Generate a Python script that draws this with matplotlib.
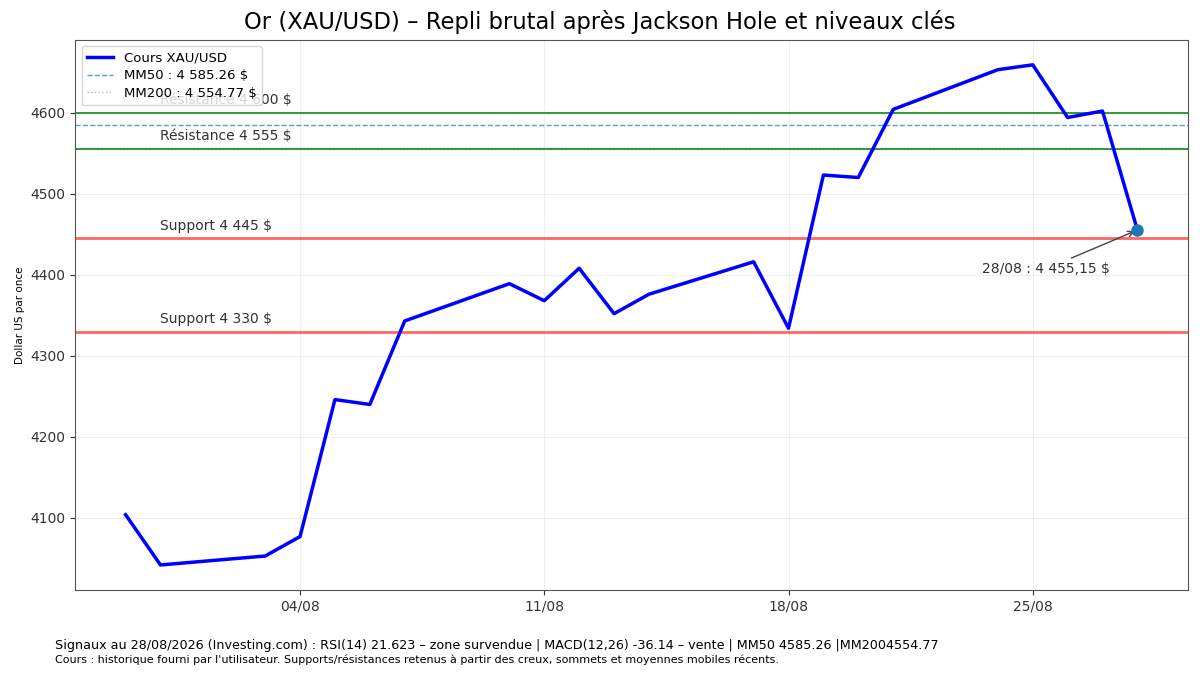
import matplotlib
matplotlib.use("Agg")
import matplotlib.pyplot as plt
import matplotlib.dates as mdates
import pandas as pd

dates = ["2026-07-30", "2026-07-31", "2026-08-03", "2026-08-04", "2026-08-05",
         "2026-08-06", "2026-08-07", "2026-08-10", "2026-08-11", "2026-08-12",
         "2026-08-13", "2026-08-14", "2026-08-17", "2026-08-18", "2026-08-19",
         "2026-08-20", "2026-08-21", "2026-08-24", "2026-08-25", "2026-08-26",
         "2026-08-27", "2026-08-28"]
prices = [4104, 4042, 4053, 4077, 4246, 4240, 4343, 4389, 4368, 4408, 4352,
          4376, 4416, 4334, 4523, 4520, 4604, 4653, 4659, 4594, 4602, 4455.15]

mm50 = 4585.26
mm200 = 4554.77
resistances = [4600, 4555]
resistance_labels = ["Résistance 4 600 $", "Résistance 4 555 $"]
supports = [4445, 4330]
support_labels = ["Support 4 445 $", "Support 4 330 $"]

title = "Or (XAU/USD) – Repli brutal après Jackson Hole et niveaux clés"
ylabel = "Dollar US par once"
last_label = "28/08 : 4 455,15 $"
footer1 = ("Signaux au 28/08/2026 (Investing.com) : RSI(14) 21.623 – zone survendue | "
           "MACD(12,26) -36.14 – vente | MM50 4585.26 |MM2004554.77")
footer2 = ("Cours : historique fourni par l'utilisateur. Supports/résistances retenus "
           "à partir des creux, sommets et moyennes mobiles récents.")

x = pd.to_datetime(dates)

fig = plt.figure(figsize=(12, 6.75), dpi=100)
ax = fig.add_axes([0.0625, 0.126, 0.9275, 0.815])

ax.plot(x, prices, color="blue", lw=2.5, label="Cours XAU/USD", zorder=3)
ax.axhline(mm50, color="#5b9bd5", ls="--", lw=1, label="MM50 : 4 585.26 $")
ax.axhline(mm200, color="#9cc3e6", ls=":", lw=1, label="MM200 : 4 554.77 $")

for lvl, lab in zip(resistances, resistance_labels):
    ax.axhline(lvl, color="green", lw=1.3, alpha=0.85)
    ax.text(x[1], lvl + 7, lab, fontsize=10, color="#333333", ha="left", va="bottom")
for lvl, lab in zip(supports, support_labels):
    ax.axhline(lvl, color="red", lw=2, alpha=0.6)
    ax.text(x[1], lvl + 7, lab, fontsize=10, color="#333333", ha="left", va="bottom")

ax.plot(x[-1], prices[-1], "o", color="#1f77b4", ms=8, zorder=4)
ax.annotate(last_label, xy=(x[-1], prices[-1]), xytext=(-66, -28),
            textcoords="offset points", ha="center", va="center", fontsize=10,
            color="#333333",
            arrowprops=dict(arrowstyle="->", color="#444444", lw=1))

ax.xaxis.set_major_locator(mdates.WeekdayLocator(byweekday=mdates.TU))
ax.xaxis.set_major_formatter(mdates.DateFormatter("%d/%m"))
ax.grid(True, alpha=0.2)
ax.set_ylabel(ylabel, fontsize=7.5)
ax.tick_params(labelsize=10, colors="#333333")
for s in ax.spines.values():
    s.set_color("#555555")

fig.suptitle(title, fontsize=16.3, y=0.985)
ax.legend(loc="upper left", fontsize=9.5, framealpha=0.8, labelspacing=0.35)

fig.text(0.046, 0.044, footer1, fontsize=9.2, ha="left", va="center")
fig.text(0.046, 0.022, footer2, fontsize=8, ha="left", va="center")

fig.savefig("out.png", dpi=100)
